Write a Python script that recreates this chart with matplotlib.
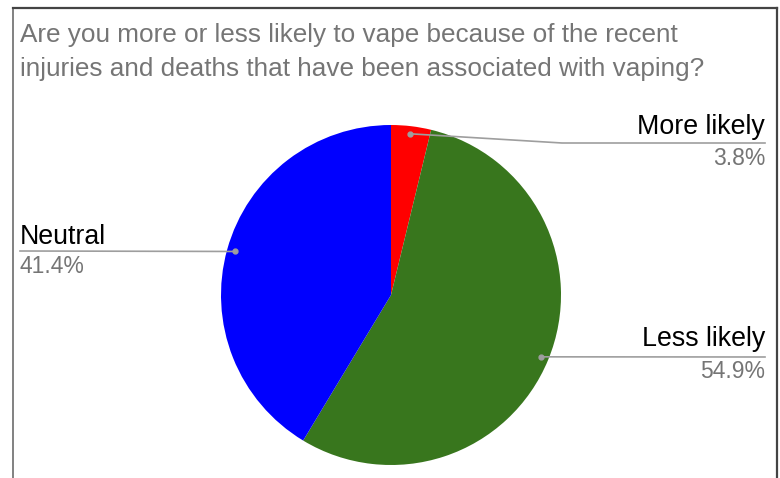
import matplotlib.pyplot as plt
import numpy as np

plt.rcParams['font.family'] = ['Liberation Sans', 'DejaVu Sans']

# Дані діаграми
title_lines = ['Are you more or less likely to vape because of the recent',
               'injuries and deaths that have been associated with vaping?']
labels = ['More likely', 'Less likely', 'Neutral']
values = [3.8, 54.9, 41.4]
colors = ['#ff0000', '#38761d', '#0000ff']

W, H = 780, 478


def Y(y):
    # перетворення піксельної координати (зверху вниз) у координату осі
    return H - y


fig = plt.figure(figsize=(W / 100, H / 100), dpi=100)
ax = fig.add_axes([0, 0, 1, 1])

cx, cy, R = 391, 295, 170
wedges, _ = ax.pie(values, colors=colors, startangle=90, counterclock=False,
                   center=(cx, Y(cy)), radius=R,
                   wedgeprops=dict(linewidth=0))
ax.set_xlim(0, W)
ax.set_ylim(0, H)
ax.set_aspect('equal')
ax.axis('off')

# Рамка
border = '#444444'
ax.plot([13, 13], [Y(478), Y(8)], color='#777777', lw=1.3)
ax.plot([13, 777], [Y(8), Y(8)], color=border, lw=1.6)
ax.plot([777, 777], [Y(8), Y(478)], color=border, lw=1.6)

# Заголовок
ax.text(20, Y(42), title_lines[0], fontsize=18.8, color='#757575', va='baseline')
ax.text(20, Y(76), title_lines[1], fontsize=18.8, color='#757575', va='baseline')

# Підписи з лініями-виносками: (шлях лінії, x тексту, вирівнювання, y лінії, зсуви)
line_color = '#9e9e9e'
label_pos = {
    'More likely': dict(path=[(562, 143), (765, 143)], x=765, ha='right', ly=143, up=9, dn=22),
    'Less likely': dict(path=[(765, 357)], x=765, ha='right', ly=357, up=11, dn=21),
    'Neutral': dict(path=[(20, 251)], x=20, ha='left', ly=251, up=7, dn=22),
}
for w, lab, val in zip(wedges, labels, values):
    mid = np.deg2rad((w.theta1 + w.theta2) / 2)
    dx = cx + 0.955 * R * np.cos(mid)
    dy = Y(cy) + 0.955 * R * np.sin(mid)
    p = label_pos[lab]
    xs = [dx] + [q[0] for q in p['path']]
    ys = [dy] + [Y(q[1]) for q in p['path']]
    ax.plot(xs, ys, color=line_color, lw=1.2)
    ax.plot(dx, dy, 'o', color=line_color, ms=3.5)
    ax.text(p['x'], Y(p['ly'] - p['up']), lab, fontsize=19.3, color='#000000',
            ha=p['ha'], va='baseline')
    ax.text(p['x'], Y(p['ly'] + p['dn']), f'{val}%', fontsize=16.5, color='#757575',
            ha=p['ha'], va='baseline')

fig.savefig('out.png', dpi=100)
